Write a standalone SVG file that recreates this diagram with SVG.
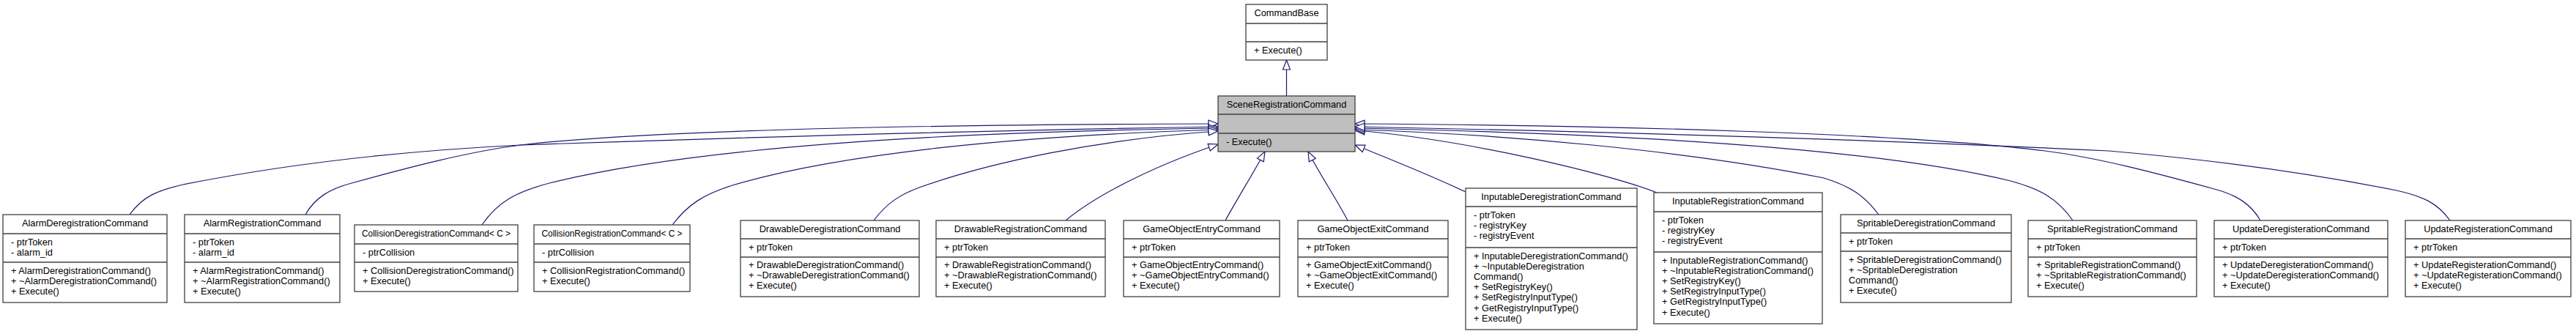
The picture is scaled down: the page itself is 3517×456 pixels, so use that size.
<svg xmlns="http://www.w3.org/2000/svg" width="3517" height="456" viewBox="0 0 3517 456">
<style>
.box{fill:#ffffff;stroke:#404040;stroke-width:1.3}
.cur{fill:#bfbfbf;stroke:#404040;stroke-width:1.3}
.div{stroke:#404040;stroke-width:1.3}
text{font-family:"Liberation Sans",Arial,Helvetica,sans-serif;font-size:12.8px;fill:#000}
.t{text-anchor:middle}
.e{fill:none;stroke:#191970;stroke-width:1.2;marker-end:url(#inh)}
</style>
<defs>
<marker id="inh" markerUnits="userSpaceOnUse" markerWidth="16" markerHeight="14" refX="13" refY="5" orient="auto" overflow="visible">
<path d="M0,0 L13,5 L0,10 Z" fill="#ffffff" stroke="#191970" stroke-width="1.2"/>
</marker>
</defs>
<rect width="3517" height="456" fill="#ffffff"/>

<g id="connectors">
<path class="e" d="M1756.5,131 L1756.5,82"/>
<path class="e" d="M177,293 C195,268 215,260 250,252 C400,222 550,206 711,198 C1000,188 1350,178 1663,173"/>
<path class="e" d="M417,293 C430,270 450,258 480,250 C560,228 640,207 711,198 C900,176 1300,170 1663,169"/>
<path class="e" d="M658,307 C680,275 705,262 750,250 C950,200 1300,180 1663,175"/>
<path class="e" d="M918,307 C940,278 962,265 1000,253 C1150,208 1400,185 1663,177"/>
<path class="e" d="M1193,301 C1210,278 1228,266 1255,256 C1350,222 1500,190 1663,179"/>
<path class="e" d="M1455,301 C1490,272 1560,232 1663,197"/>
<path class="e" d="M1673,301 C1690,270 1712,235 1727,207"/>
<path class="e" d="M1840,301 C1825,272 1800,235 1786,207"/>
<path class="e" d="M2001,262 C1950,238 1900,218 1850,198"/>
<path class="e" d="M2262,263 C2200,238 2000,190 1850,178"/>
<path class="e" d="M2565,293 C2545,266 2525,254 2490,243 C2300,205 2050,183 1850,177"/>
<path class="e" d="M2830,301 C2808,270 2785,258 2745,247 C2550,200 2200,182 1850,175"/>
<path class="e" d="M3086,301 C3073,278 3053,266 3023,258 C2943,236 2863,215 2792,206 C2600,182 2200,171 1850,169"/>
<path class="e" d="M3345,301 C3327,276 3307,268 3272,260 C3122,230 2972,214 2879,206 C2590,192 2200,180 1850,173"/>
</g>

<g id="CommandBase">
<rect class="box" x="1701" y="6" width="111" height="76"/>
<line class="div" x1="1701" y1="32" x2="1812" y2="32"/>
<line class="div" x1="1701" y1="57" x2="1812" y2="57"/>
<text class="t" x="1756.5" y="22">CommandBase</text>
<text x="1712" y="72.5">+ Execute()</text>
</g>

<g id="SceneRegistrationCommand">
<rect class="cur" x="1663" y="131" width="187" height="76"/>
<line class="div" x1="1663" y1="156" x2="1850" y2="156"/>
<line class="div" x1="1663" y1="182" x2="1850" y2="182"/>
<text class="t" x="1756.5" y="147">SceneRegistrationCommand</text>
<text x="1674" y="197.5">- Execute()</text>
</g>

<g id="AlarmDeregistrationCommand">
<rect class="box" x="4" y="293" width="224" height="120"/>
<line class="div" x1="4" y1="319" x2="228" y2="319"/>
<line class="div" x1="4" y1="358" x2="228" y2="358"/>
<text class="t" x="116" y="309">AlarmDeregistrationCommand</text>
<text x="15" y="335">- ptrToken</text>
<text x="15" y="349.2">- alarm_id</text>
<text x="15" y="374">+ AlarmDeregistrationCommand()</text>
<text x="15" y="388.2">+ ~AlarmDeregistrationCommand()</text>
<text x="15" y="402.4">+ Execute()</text>
</g>

<g id="AlarmRegistrationCommand">
<rect class="box" x="252" y="293" width="212" height="120"/>
<line class="div" x1="252" y1="319" x2="464" y2="319"/>
<line class="div" x1="252" y1="358" x2="464" y2="358"/>
<text class="t" x="358" y="309">AlarmRegistrationCommand</text>
<text x="263" y="335">- ptrToken</text>
<text x="263" y="349.2">- alarm_id</text>
<text x="263" y="374">+ AlarmRegistrationCommand()</text>
<text x="263" y="388.2">+ ~AlarmRegistrationCommand()</text>
<text x="263" y="402.4">+ Execute()</text>
</g>

<g id="CollisionDeregistrationCommand">
<rect class="box" x="484" y="307" width="223" height="91"/>
<line class="div" x1="484" y1="333" x2="707" y2="333"/>
<line class="div" x1="484" y1="358" x2="707" y2="358"/>
<text class="t" x="595.5" y="323" textLength="203" lengthAdjust="spacingAndGlyphs">CollisionDeregistrationCommand&lt; C &gt;</text>
<text x="495" y="349">- ptrCollision</text>
<text x="495" y="373.5">+ CollisionDeregistrationCommand()</text>
<text x="495" y="387.7">+ Execute()</text>
</g>

<g id="CollisionRegistrationCommand">
<rect class="box" x="729" y="307" width="213" height="91"/>
<line class="div" x1="729" y1="333" x2="942" y2="333"/>
<line class="div" x1="729" y1="358" x2="942" y2="358"/>
<text class="t" x="835.5" y="323" textLength="192" lengthAdjust="spacingAndGlyphs">CollisionRegistrationCommand&lt; C &gt;</text>
<text x="740" y="349">- ptrCollision</text>
<text x="740" y="373.5">+ CollisionRegistrationCommand()</text>
<text x="740" y="387.7">+ Execute()</text>
</g>

<g id="DrawableDeregistrationCommand">
<rect class="box" x="1011" y="301" width="244" height="104"/>
<line class="div" x1="1011" y1="326" x2="1255" y2="326"/>
<line class="div" x1="1011" y1="351" x2="1255" y2="351"/>
<text class="t" x="1133" y="317">DrawableDeregistrationCommand</text>
<text x="1022" y="342">+ ptrToken</text>
<text x="1022" y="366">+ DrawableDeregistrationCommand()</text>
<text x="1022" y="380.2">+ ~DrawableDeregistrationCommand()</text>
<text x="1022" y="394.4">+ Execute()</text>
</g>

<g id="DrawableRegistrationCommand">
<rect class="box" x="1278" y="301" width="231" height="104"/>
<line class="div" x1="1278" y1="326" x2="1509" y2="326"/>
<line class="div" x1="1278" y1="351" x2="1509" y2="351"/>
<text class="t" x="1393.5" y="317">DrawableRegistrationCommand</text>
<text x="1289" y="342">+ ptrToken</text>
<text x="1289" y="366">+ DrawableRegistrationCommand()</text>
<text x="1289" y="380.2">+ ~DrawableRegistrationCommand()</text>
<text x="1289" y="394.4">+ Execute()</text>
</g>

<g id="GameObjectEntryCommand">
<rect class="box" x="1534" y="301" width="213" height="104"/>
<line class="div" x1="1534" y1="326" x2="1747" y2="326"/>
<line class="div" x1="1534" y1="351" x2="1747" y2="351"/>
<text class="t" x="1640.5" y="317">GameObjectEntryCommand</text>
<text x="1545" y="342">+ ptrToken</text>
<text x="1545" y="366">+ GameObjectEntryCommand()</text>
<text x="1545" y="380.2">+ ~GameObjectEntryCommand()</text>
<text x="1545" y="394.4">+ Execute()</text>
</g>

<g id="GameObjectExitCommand">
<rect class="box" x="1772" y="301" width="205" height="104"/>
<line class="div" x1="1772" y1="326" x2="1977" y2="326"/>
<line class="div" x1="1772" y1="351" x2="1977" y2="351"/>
<text class="t" x="1874.5" y="317">GameObjectExitCommand</text>
<text x="1783" y="342">+ ptrToken</text>
<text x="1783" y="366">+ GameObjectExitCommand()</text>
<text x="1783" y="380.2">+ ~GameObjectExitCommand()</text>
<text x="1783" y="394.4">+ Execute()</text>
</g>

<g id="InputableDeregistrationCommand">
<rect class="box" x="2001" y="257" width="234" height="193"/>
<line class="div" x1="2001" y1="282" x2="2235" y2="282"/>
<line class="div" x1="2001" y1="338" x2="2235" y2="338"/>
<text class="t" x="2118" y="273">InputableDeregistrationCommand</text>
<text x="2012" y="298">- ptrToken</text>
<text x="2012" y="312.2">- registryKey</text>
<text x="2012" y="326.4">- registryEvent</text>
<text x="2012" y="353.5">+ InputableDeregistrationCommand()</text>
<text x="2012" y="367.7">+ ~InputableDeregistration</text>
<text x="2012" y="381.9">Command()</text>
<text x="2012" y="396.1">+ SetRegistryKey()</text>
<text x="2012" y="410.3">+ SetRegistryInputType()</text>
<text x="2012" y="424.5">+ GetRegistryInputType()</text>
<text x="2012" y="438.7">+ Execute()</text>
</g>

<g id="InputableRegistrationCommand">
<rect class="box" x="2258" y="263" width="230" height="179"/>
<line class="div" x1="2258" y1="289" x2="2488" y2="289"/>
<line class="div" x1="2258" y1="344" x2="2488" y2="344"/>
<text class="t" x="2373" y="279">InputableRegistrationCommand</text>
<text x="2269" y="305">- ptrToken</text>
<text x="2269" y="319.2">- registryKey</text>
<text x="2269" y="333.4">- registryEvent</text>
<text x="2269" y="359.5">+ InputableRegistrationCommand()</text>
<text x="2269" y="373.7">+ ~InputableRegistrationCommand()</text>
<text x="2269" y="387.9">+ SetRegistryKey()</text>
<text x="2269" y="402.1">+ SetRegistryInputType()</text>
<text x="2269" y="416.3">+ GetRegistryInputType()</text>
<text x="2269" y="430.5">+ Execute()</text>
</g>

<g id="SpritableDeregistrationCommand">
<rect class="box" x="2513" y="293" width="233" height="120"/>
<line class="div" x1="2513" y1="318" x2="2746" y2="318"/>
<line class="div" x1="2513" y1="343" x2="2746" y2="343"/>
<text class="t" x="2629.5" y="309">SpritableDeregistrationCommand</text>
<text x="2524" y="334">+ ptrToken</text>
<text x="2524" y="358.5">+ SpritableDeregistrationCommand()</text>
<text x="2524" y="372.7">+ ~SpritableDeregistration</text>
<text x="2524" y="386.9">Command()</text>
<text x="2524" y="401.1">+ Execute()</text>
</g>

<g id="SpritableRegistrationCommand">
<rect class="box" x="2769" y="301" width="230" height="104"/>
<line class="div" x1="2769" y1="326" x2="2999" y2="326"/>
<line class="div" x1="2769" y1="351" x2="2999" y2="351"/>
<text class="t" x="2884" y="317">SpritableRegistrationCommand</text>
<text x="2780" y="342">+ ptrToken</text>
<text x="2780" y="366">+ SpritableRegistrationCommand()</text>
<text x="2780" y="380.2">+ ~SpritableRegistrationCommand()</text>
<text x="2780" y="394.4">+ Execute()</text>
</g>

<g id="UpdateDeregisterationCommand">
<rect class="box" x="3023" y="301" width="237" height="104"/>
<line class="div" x1="3023" y1="326" x2="3260" y2="326"/>
<line class="div" x1="3023" y1="351" x2="3260" y2="351"/>
<text class="t" x="3141.5" y="317">UpdateDeregisterationCommand</text>
<text x="3034" y="342">+ ptrToken</text>
<text x="3034" y="366">+ UpdateDeregisterationCommand()</text>
<text x="3034" y="380.2">+ ~UpdateDeregisterationCommand()</text>
<text x="3034" y="394.4">+ Execute()</text>
</g>

<g id="UpdateRegisterationCommand">
<rect class="box" x="3284" y="301" width="226" height="104"/>
<line class="div" x1="3284" y1="326" x2="3510" y2="326"/>
<line class="div" x1="3284" y1="351" x2="3510" y2="351"/>
<text class="t" x="3397" y="317">UpdateRegisterationCommand</text>
<text x="3295" y="342">+ ptrToken</text>
<text x="3295" y="366">+ UpdateRegisterationCommand()</text>
<text x="3295" y="380.2">+ ~UpdateRegisterationCommand()</text>
<text x="3295" y="394.4">+ Execute()</text>
</g>
</svg>
